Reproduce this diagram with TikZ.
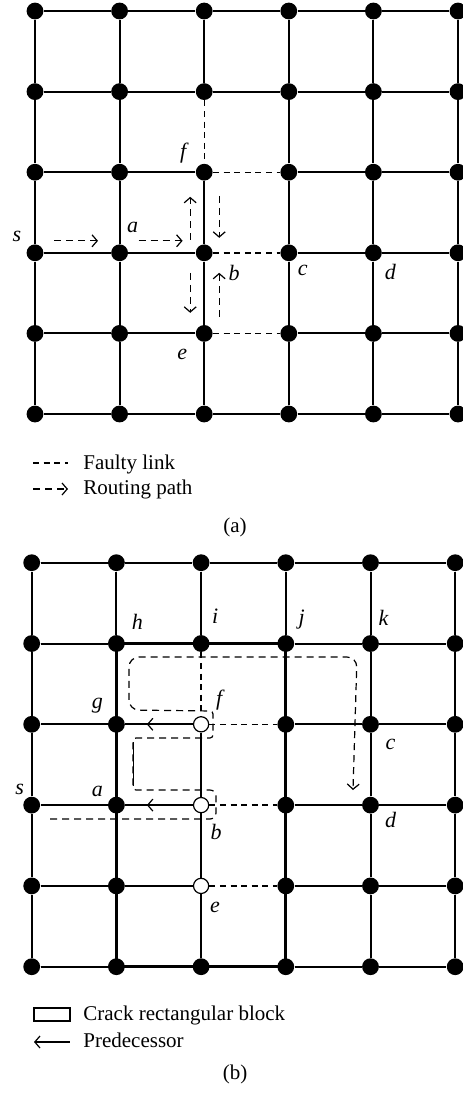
\documentclass[tikz,border=0pt]{standalone}
\usepackage{fontspec}
\setmainfont{Liberation Serif}
\usetikzlibrary{arrows.meta}
\usetikzlibrary{positioning}
\usetikzlibrary{decorations.markings}

\begin{document}
\begin{tikzpicture}[
    x=0.5pt, y=-0.5pt,
    dot/.style={circle, fill=black, inner sep=0pt, minimum size=8.4pt},
    hole/.style={circle, draw=black, fill=white, line width=0.6pt,
      inner sep=0pt, minimum size=7.6pt},
    link/.style={line width=1pt},
    faulty/.style={line width=0.7pt, dash pattern=on 3pt off 2.3pt},
    route/.style={line width=0.6pt, dash pattern=on 3.5pt off 2.5pt,
      -{Straight Barb[length=2.6pt,width=6pt]}},
    crack/.style={line width=1.5pt},
    pred/.style={postaction={decorate}, decoration={markings,
      mark=at position 0.68 with {\arrow{Straight Barb[length=2.6pt,width=6pt,line width=0.6pt]}}}},
    lbl/.style={font=\fontsize{11}{12}\selectfont\itshape, inner sep=0pt},
    txt/.style={font=\fontsize{10.5}{12}\selectfont, inner sep=0pt, anchor=base west},
  ]
  \useasboundingbox (0,0) rectangle (462,1094);

  % mesh nodes, panel (a) and panel (b)
  \foreach \c in {0,...,5}{
    \foreach \r in {0,...,5}{
      \node[dot] (pa-\c-\r) at ({35+84.6*\c},{11+80.6*\r}) {};
      \pgfmathtruncatemacro\ishole{and(\c==2,and(\r>1,\r<5))}
      \ifnum\ishole=1
        \node[hole] (pb-\c-\r) at ({31.7+84.7*\c},{562.7+80.8*\r}) {};
      \else
        \node[dot] (pb-\c-\r) at ({31.7+84.7*\c},{562.7+80.8*\r}) {};
      \fi
    }
  }

  % links
  \foreach \p/\w in {pa/1pt, pb/0.7pt}{
    \foreach \c in {0,...,5}{
      \foreach \r in {0,...,5}{
        \pgfmathtruncatemacro\n{\c+1}
        \pgfmathtruncatemacro\m{\r+1}
        \ifnum\c<5
          \pgfmathtruncatemacro\bad{and(\c==2,and(\r>1,\r<5))}
          \ifnum\bad=1
            \draw[faulty] (\p-\c-\r) -- (\p-\n-\r);
          \else
            \draw[link] (\p-\c-\r) -- (\p-\n-\r);
          \fi
        \fi
        \ifnum\r<5
          \pgfmathtruncatemacro\bad{and(\c==2,\r==1)}
          \pgfmathtruncatemacro\thin{and(\c==2,\r>1)}
          \ifnum\bad=1
            \draw[faulty] (\p-\c-\r) -- (\p-\c-\m);
          \else\ifnum\thin=1
            \draw[link, line width=\w] (\p-\c-\r) -- (\p-\c-\m);
          \else
            \draw[link] (\p-\c-\r) -- (\p-\c-\m);
          \fi\fi
        \fi
      }
    }
  }

  % labels
  \foreach \t/\c/\r/\dx/\dy in {s/0/3/-18/-16, a/1/3/13/-25, f/2/2/-21/-19,
      b/2/3/30/20, c/3/3/14/18, d/4/3/17/19, e/2/4/-22/21}
    \node[lbl] (la-\t) at ([shift={(\dx,\dy)}]pa-\c-\r) {\t};
  \foreach \t/\c/\r/\dx/\dy in {h/1/1/21/-22, i/2/1/14/-27, j/3/1/16/-24,
      k/4/1/13/-26, g/1/2/-19/-19, f/2/2/18/-24, c/4/2/20/20, s/0/3/-12/-16,
      a/1/3/-19/-14, b/2/3/15/27, d/4/3/20/15, e/2/4/14/22}
    \node[lbl] (lb-\t) at ([shift={(\dx,\dy)}]pb-\c-\r) {\t};

  % routing path (a)
  \draw[route] ([shift={(19,-12)}]pa-0-3.center) -- ([shift={(63,-12)}]pa-0-3.center);
  \draw[route] ([shift={(19,-12)}]pa-1-3.center) -- ([shift={(63,-12)}]pa-1-3.center);
  \draw[route] ([shift={(-14,-13)}]pa-2-3.center) -- ([shift={(-14,-56)}]pa-2-3.center);
  \draw[route] ([shift={(15,-57)}]pa-2-3.center) -- ([shift={(15,-15)}]pa-2-3.center);
  \draw[route] ([shift={(-14,20)}]pa-2-3.center) -- ([shift={(-14,60)}]pa-2-3.center);
  \draw[route] ([shift={(15,64)}]pa-2-3.center) -- ([shift={(15,20)}]pa-2-3.center);

  % crack block and predecessors (b)
  \draw[crack] (pb-1-1.center) rectangle (pb-3-5.center);
  \draw[link, pred] (pb-2-2) -- (pb-1-2);
  \draw[link, pred] (pb-2-3) -- (pb-1-3);

  % routing path (b)
  \coordinate (rs) at (50,819);
  \coordinate (re) at (353,790);
  \draw[route] (rs) [rounded corners=3pt] -- (216,819) -- (216,790)
    [rounded corners=1.5pt] -- (133,790) -- (133,738) -- (213,738) -- (213,711)
    [rounded corners=5pt] -- (129,710) -- (129,657) -- (357,657) -- (re);
  \draw[line width=0.5pt] (133,786) -- (133,742);

  % legends and captions
  \node[txt] (leg-faulty) at (83,469) {Faulty link};
  \node[txt] (leg-route) at (83,494) {Routing path};
  \draw[faulty] ([shift={(-50,-6)}]leg-faulty.base west) -- ++(35,0);
  \draw[route] ([shift={(-50,-5)}]leg-route.base west) -- ++(35,0);
  \node[txt, anchor=center] (cap-a) at (235,527) {(a)};

  \node[txt] (leg-crack) at (83,1020) {Crack rectangular block};
  \node[txt] (leg-pred) at (83,1047) {Predecessor};
  \draw[line width=0.6pt] ([shift={(-49,-12)}]leg-crack.base west) rectangle ++(36,13);
  \draw[line width=0.6pt, {Straight Barb[length=2.6pt,width=6pt]}-]
    ([shift={(-49,-5)}]leg-pred.base west) -- ++(36,0);
  \node[txt, anchor=center] (cap-b) at (235,1074) {(b)};
\end{tikzpicture}
\end{document}
